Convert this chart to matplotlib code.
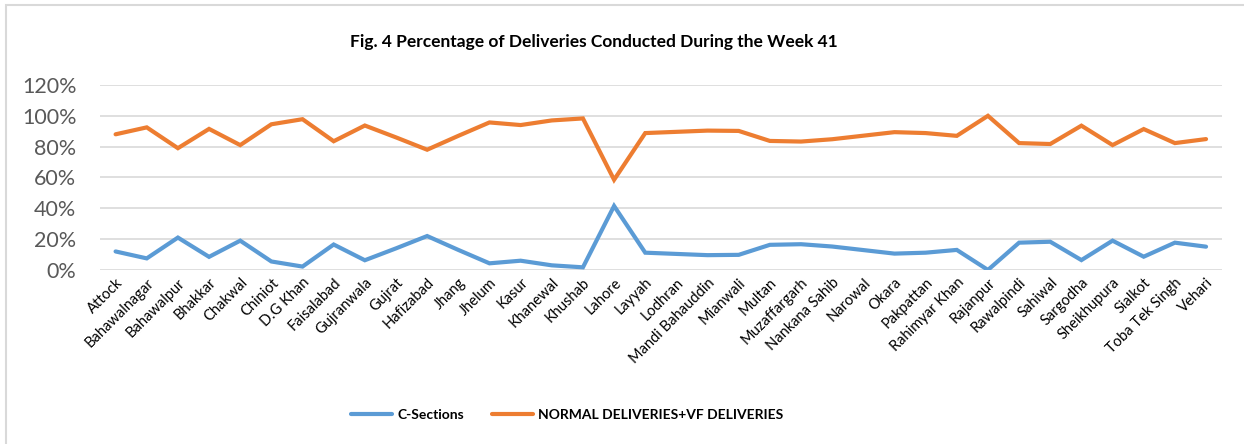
import matplotlib.pyplot as plt
from matplotlib.patches import Rectangle
from matplotlib.ticker import PercentFormatter

# === DATA ===
districts = ["Attock", "Bahawalnagar", "Bahawalpur", "Bhakkar", "Chakwal", "Chiniot",
             "D.G Khan", "Faisalabad", "Gujranwala", "Gujrat", "Hafizabad", "Jhang",
             "Jhelum", "Kasur", "Khanewal", "Khushab", "Lahore", "Layyah", "Lodhran",
             "Mandi Bahauddin", "Mianwali", "Multan", "Muzaffargarh", "Nankana Sahib",
             "Narowal", "Okara", "Pakpattan", "Rahimyar Khan", "Rajanpur", "Rawalpindi",
             "Sahiwal", "Sargodha", "Sheikhupura", "Sialkot", "Toba Tek Singh", "Vehari"]
c_sections = [12, 7.5, 21, 8.5, 19, 5.5, 2.2, 16.5, 6.3, 14, 22, 13,
              4.3, 6, 3, 1.7, 41.5, 11.2, 10.4, 9.6, 9.8, 16.3, 16.7, 15.2,
              12.9, 10.6, 11.2, 13, 0, 17.7, 18.3, 6.4, 19, 8.6, 17.7, 15.1]
normal_vf = [88, 92.5, 79, 91.5, 81, 94.5, 97.8, 83.5, 93.7, 86, 78, 87,
             95.7, 94, 97, 98.3, 58.5, 88.8, 89.6, 90.4, 90.2, 83.7, 83.3, 84.8,
             87.1, 89.4, 88.8, 87, 100, 82.3, 81.7, 93.6, 81, 91.4, 82.3, 84.9]

BLUE = "#5B9BD5"
ORANGE = "#ED7D31"
FONT = "Lato"

fig = plt.figure(figsize=(12.44, 4.44), dpi=100)
ax = fig.add_axes([0.0804, 0.392, 0.9016, 0.4166])

x = range(len(districts))
ax.plot(x, c_sections, color=BLUE, lw=3, solid_capstyle="round", solid_joinstyle="miter",
        label="C-Sections")
ax.plot(x, normal_vf, color=ORANGE, lw=3, solid_capstyle="round", solid_joinstyle="miter",
        label="NORMAL DELIVERIES+VF DELIVERIES")

ax.set_xlim(-0.5, len(districts) - 0.5)
ax.set_ylim(0, 120)
ax.set_yticks(range(0, 121, 20))
ax.yaxis.set_major_formatter(PercentFormatter(decimals=0))
ax.grid(axis="y", color="#D9D9D9", lw=1.2)
ax.set_axisbelow(True)
for s in ax.spines.values():
    s.set_visible(False)
ax.tick_params(length=0)
ax.tick_params(axis="y", labelsize=15.5, labelcolor="#595959", pad=17)
ax.set_xticks(list(x))
ax.set_xticklabels(districts, rotation=45, ha="right", rotation_mode="anchor",
                   fontsize=10.5, family=FONT)
ax.tick_params(axis="x", pad=4)
for t in ax.get_yticklabels():
    t.set_family(FONT)

fig.text(0.4775, 0.905, "Fig. 4 Percentage of Deliveries Conducted During the Week 41",
         ha="center", va="center", fontsize=12.5, fontweight="bold", family=FONT)

leg = fig.legend(loc="center", bbox_to_anchor=(0.456, 0.066), ncol=2, frameon=False,
                 prop={"family": FONT, "weight": "bold", "size": 10},
                 handlelength=2.95, columnspacing=2.0, handletextpad=0.4)

# chart border (cropped at right and bottom in the reference)
fig.patches.append(Rectangle((6 / 1244, -0.1), 1.2, 1 - 5 / 444 + 0.1,
                             transform=fig.transFigure, fill=False,
                             edgecolor="#D9D9D9", lw=1.5))

plt.savefig("out.png", dpi=100)
